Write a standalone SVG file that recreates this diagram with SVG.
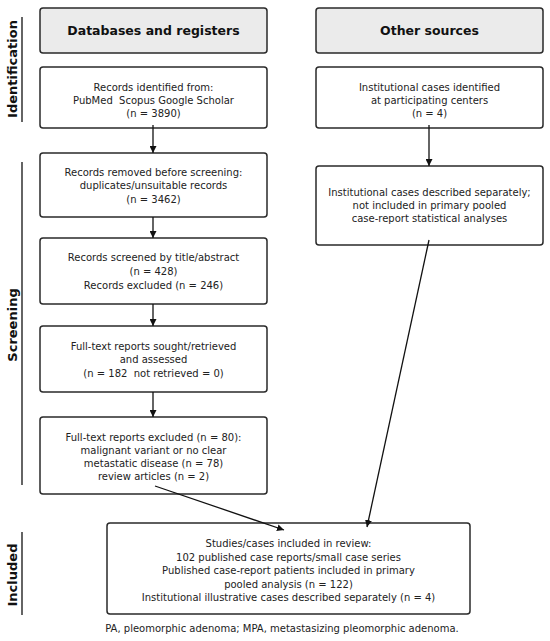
<svg xmlns="http://www.w3.org/2000/svg" width="550" height="641" viewBox="0 0 550 641">
<style>
.box{fill:#fff;stroke:#2a2a2a;stroke-width:1.5}
.hdr{fill:#ebebeb;stroke:#2a2a2a;stroke-width:1.5}
.t{font-family:"DejaVu Sans",sans-serif;font-size:10px;fill:#222;text-anchor:middle;white-space:pre}
.h{font-family:"DejaVu Sans",sans-serif;font-size:12.5px;font-weight:bold;fill:#111;text-anchor:middle}
.s{font-family:"DejaVu Sans",sans-serif;font-size:13px;font-weight:bold;fill:#111;text-anchor:middle}
.c{stroke:#111;stroke-width:1.3;fill:none;marker-end:url(#ah)}
.sl{stroke:#111;stroke-width:1.3}
</style>
<defs>
<marker id="ah" viewBox="0 0 10 10" refX="10" refY="5" markerWidth="7" markerHeight="7" markerUnits="userSpaceOnUse" orient="auto">
<path d="M0,0 L10,5 L0,10 z" fill="#111"/>
</marker>
</defs>
<rect width="550" height="641" fill="#fff"/>

<g id="sections">
<line class="sl" x1="22" y1="17" x2="22" y2="122"/>
<text class="s" transform="translate(17,69) rotate(-90)">Identification</text>
<line class="sl" x1="22" y1="162" x2="22" y2="485"/>
<text class="s" transform="translate(17,325) rotate(-90)">Screening</text>
<line class="sl" x1="22" y1="532" x2="22" y2="615"/>
<text class="s" transform="translate(17,575) rotate(-90)">Included</text>
</g>

<g id="hdr-db">
<rect class="hdr" x="40" y="8" width="227" height="45" rx="3"/>
<text class="h" x="153.5" y="35">Databases and registers</text>
</g>
<g id="hdr-other">
<rect class="hdr" x="316" y="8" width="227" height="45" rx="3"/>
<text class="h" x="429.5" y="35">Other sources</text>
</g>

<g id="identified">
<rect class="box" x="40" y="67" width="227" height="61" rx="3"/>
<text class="t" x="153.5" y="90.5">Records identified from:</text>
<text class="t" x="153.5" y="103.5" xml:space="preserve">PubMed  Scopus Google Scholar</text>
<text class="t" x="153.5" y="116.5">(n = 3890)</text>
</g>
<g id="institutional">
<rect class="box" x="316" y="67" width="227" height="61" rx="3"/>
<text class="t" x="429.5" y="90.5">Institutional cases identified</text>
<text class="t" x="429.5" y="103.5">at participating centers</text>
<text class="t" x="429.5" y="116.5">(n = 4)</text>
</g>

<g id="removed">
<rect class="box" x="40" y="153" width="227" height="64" rx="3"/>
<text class="t" x="153.5" y="175.5">Records removed before screening:</text>
<text class="t" x="153.5" y="189">duplicates/unsuitable records</text>
<text class="t" x="153.5" y="202.5">(n = 3462)</text>
</g>
<g id="separate">
<rect class="box" x="316" y="166" width="227" height="79" rx="3"/>
<text class="t" x="429.5" y="195.5">Institutional cases described separately;</text>
<text class="t" x="429.5" y="208.5">not included in primary pooled</text>
<text class="t" x="429.5" y="222">case-report statistical analyses</text>
</g>

<g id="screened">
<rect class="box" x="40" y="238" width="227" height="66" rx="3"/>
<text class="t" x="153.5" y="261">Records screened by title/abstract</text>
<text class="t" x="153.5" y="275">(n = 428)</text>
<text class="t" x="153.5" y="289">Records excluded (n = 246)</text>
</g>

<g id="fulltext">
<rect class="box" x="40" y="326" width="227" height="66" rx="3"/>
<text class="t" x="153.5" y="349.5">Full-text reports sought/retrieved</text>
<text class="t" x="153.5" y="363">and assessed</text>
<text class="t" x="153.5" y="376.5" xml:space="preserve">(n = 182  not retrieved = 0)</text>
</g>

<g id="excluded">
<rect class="box" x="40" y="417" width="227" height="77" rx="3"/>
<text class="t" x="153.5" y="440.5">Full-text reports excluded (n = 80):</text>
<text class="t" x="153.5" y="453.5">malignant variant or no clear</text>
<text class="t" x="153.5" y="466.5">metastatic disease (n = 78)</text>
<text class="t" x="153.5" y="479.5">review articles (n = 2)</text>
</g>

<g id="included">
<rect class="box" x="107" y="523" width="363" height="91" rx="3"/>
<text class="t" x="288.5" y="547">Studies/cases included in review:</text>
<text class="t" x="288.5" y="560.5">102 published case reports/small case series</text>
<text class="t" x="288.5" y="574">Published case-report patients included in primary</text>
<text class="t" x="288.5" y="587.5">pooled analysis (n = 122)</text>
<text class="t" x="288.5" y="601">Institutional illustrative cases described separately (n = 4)</text>
</g>

<g id="connectors">
<line class="c" x1="153" y1="125" x2="153" y2="153"/>
<line class="c" x1="153" y1="217" x2="153" y2="238"/>
<line class="c" x1="153" y1="304" x2="153" y2="326"/>
<line class="c" x1="153" y1="392" x2="153" y2="417"/>
<line class="c" x1="429" y1="125" x2="429" y2="166"/>
<line class="c" x1="429" y1="240" x2="367" y2="527"/>
<line class="c" x1="155" y1="486" x2="284" y2="530"/>
</g>

<text class="t" x="282" y="632">PA, pleomorphic adenoma; MPA, metastasizing pleomorphic adenoma.</text>
</svg>
